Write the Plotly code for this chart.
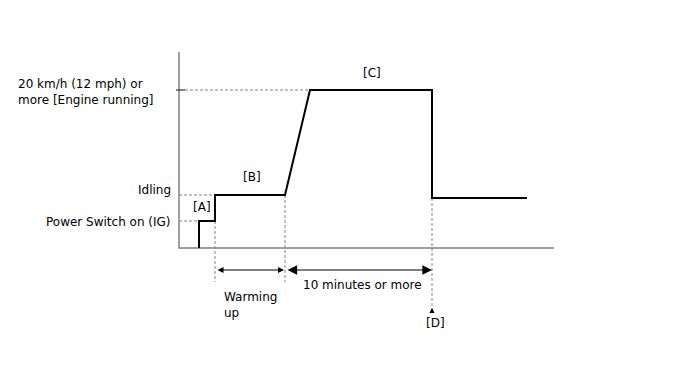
import plotly.graph_objects as go

# Data (time in arbitrary units from the y-axis, speed level in arbitrary units above baseline)
t_profile = [20, 20, 36, 36, 106, 131, 253, 253, 348]
v_profile = [0, 27, 27, 53, 53, 158, 158, 50, 50]
level_ig, level_idle, level_high = 27, 53, 158
t_ig, t_warm_end, t_run_start, t_d = 36, 106, 106, 253
axis_t_end, axis_v_top = 375, 196
level_labels = ["Power Switch on (IG)", "Idling", "20 km/h (12 mph) or<br>more [Engine running]"]

FONT = dict(family="DejaVu Sans", size=12, color="black")
GRAY = "#808080"

fig = go.Figure()

# axes
fig.add_trace(go.Scatter(x=[0, 0, axis_t_end], y=[axis_v_top, 0, 0], mode="lines",
                         line=dict(color=GRAY, width=1.5), hoverinfo="skip"))
# small tick at high level
fig.add_trace(go.Scatter(x=[-3, 6], y=[level_high, level_high], mode="lines",
                         line=dict(color="#333", width=1.2), hoverinfo="skip"))
# dashed guide lines
dash = dict(color=GRAY, width=1, dash="3px,2px")
for xs, ys in [([0, 20], [level_ig, level_ig]),
               ([0, 36], [level_idle, level_idle]),
               ([6, 131], [level_high, level_high]),
               ([t_ig, t_ig], [level_ig, -34]),
               ([t_warm_end, t_warm_end], [level_idle, -34]),
               ([t_d, t_d], [50, -62])]:
    fig.add_trace(go.Scatter(x=xs, y=ys, mode="lines", line=dash, hoverinfo="skip"))

# main profile
fig.add_trace(go.Scatter(x=t_profile, y=v_profile, mode="lines",
                         line=dict(color="black", width=2), hoverinfo="skip"))

# arrows
fig.add_annotation(x=t_warm_end - 1, y=-22, ax=t_ig + 1, ay=-22, xref="x", yref="y",
                   axref="x", ayref="y", showarrow=True, arrowhead=2, arrowside="end+start",
                   arrowsize=1, arrowwidth=1.2, arrowcolor="black", text="")
fig.add_annotation(x=t_d, y=-22, ax=t_run_start + 1, ay=-22, xref="x", yref="y",
                   axref="x", ayref="y", showarrow=True, arrowhead=2, arrowside="end+start",
                   arrowsize=1.6, arrowwidth=1.2, arrowcolor="black", text="")
fig.add_annotation(x=t_d, y=-60, ax=t_d, ay=-66, xref="x", yref="y",
                   axref="x", ayref="y", showarrow=True, arrowhead=2,
                   arrowsize=1, arrowwidth=1, arrowcolor="black", text="")

# text labels
def txt(x, y, s, xanchor="center"):
    fig.add_annotation(x=x, y=y, text=s, showarrow=False, xref="x", yref="y",
                       xanchor=xanchor, yanchor="middle", font=FONT, align="left")

txt(-6, level_ig - 1, level_labels[0], "right")
txt(-6, level_idle + 5, level_labels[1], "right")
txt(-163, level_high - 2, level_labels[2], "left")
txt(23, 41, "[A]")
txt(73, 71, "[B]")
txt(193, 175, "[C]")
txt(43, -57, "Warming<br>up", "left")
txt(183, -37, "10 minutes or more")
txt(256, -75, "[D]")

fig.update_layout(
    width=688, height=366, margin=dict(l=0, r=0, t=0, b=0),
    paper_bgcolor="white", plot_bgcolor="white", showlegend=False,
    xaxis=dict(range=[-179, 509], visible=False, fixedrange=True),
    yaxis=dict(range=[-118, 248], visible=False, fixedrange=True),
)
fig.write_html("out.html")
